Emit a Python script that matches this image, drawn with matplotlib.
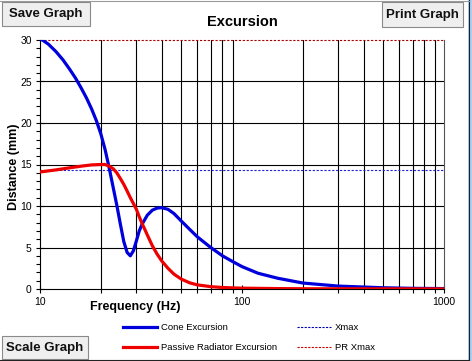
import matplotlib
matplotlib.use("Agg")
import matplotlib.pyplot as plt
from matplotlib.patches import Rectangle
from matplotlib.lines import Line2D
from matplotlib.ticker import FixedLocator, NullFormatter, MultipleLocator

plt.rcParams['font.family'] = ['Liberation Sans', 'DejaVu Sans']

# ---- data ----
cone_freq = [10, 11, 12, 13, 14, 15, 16, 17, 18, 19, 20, 21, 22, 23, 24, 25, 26,
             27, 28, 29, 30, 31, 32, 34, 36, 38, 40, 43, 46, 50, 55, 60, 70, 80,
             90, 100, 120, 150, 200, 300, 500, 700, 1000]
cone_exc = [30.2, 29.5, 28.6, 27.6, 26.5, 25.4, 24.2, 23.0, 21.7, 20.3, 18.7, 16.8,
            14.6, 12.3, 10.1, 7.8, 5.7, 4.4, 4.0, 4.6, 5.8, 7.0, 7.8, 8.9, 9.5,
            9.75, 9.8, 9.6, 9.1, 8.2, 7.2, 6.3, 5.0, 4.0, 3.3, 2.7, 1.9, 1.3,
            0.72, 0.35, 0.15, 0.08, 0.05]
pr_freq = [10, 12, 14, 16, 18, 20, 21, 22, 23, 24, 25, 26, 27, 28, 29, 30, 31, 32,
           33, 34, 36, 38, 40, 43, 46, 50, 55, 60, 70, 80, 100, 150, 200, 1000]
pr_exc = [14.1, 14.35, 14.6, 14.8, 14.95, 15.0, 15.0, 14.8, 14.5, 14.0, 13.3, 12.6,
          11.8, 11.0, 10.3, 9.6, 8.7, 7.9, 7.2, 6.5, 5.2, 4.2, 3.4, 2.5, 1.8, 1.2,
          0.75, 0.5, 0.28, 0.18, 0.1, 0.05, 0.03, 0.01]
xmax = 14.3
pr_xmax = 30.0
x_ticks = [10, 100, 1000]
x_tick_labels = ['10', '100', '1000']
y_ticks = [0, 5, 10, 15, 20, 25, 30]
title = 'Excursion'
xlabel = 'Frequency (Hz)'
ylabel = 'Distance (mm)'
legend_labels = ['Cone Excursion', 'Passive Radiator Excursion', 'Xmax', 'PR Xmax']

W, H = 472, 361
fig = plt.figure(figsize=(W / 100, H / 100), dpi=100)
fig.patch.set_facecolor('white')

def fx(px):
    return px / W

def fy(py):
    return 1 - py / H

ax = fig.add_axes([fx(40), fy(289), fx(444) - fx(40), fy(40) - fy(289)])
ax.set_xscale('log')
ax.set_xlim(10, 1000)
ax.set_ylim(0, 30)

# grid
minor_x = [v * d for d in (10, 100) for v in range(2, 10)]
for xv in minor_x:
    ax.axvline(xv, color='black', lw=0.8, zorder=1)
for yv in [5, 10, 15, 20, 25]:
    ax.axhline(yv, color='black', lw=0.8, zorder=1)

ax.plot(cone_freq, cone_exc, color='#0000dd', lw=2.3, zorder=3, solid_joinstyle='round')
ax.plot(pr_freq, pr_exc, color='#ee0000', lw=2.3, zorder=3, solid_joinstyle='round')
ax.axhline(xmax, color='#2020dd', lw=0.8, ls=(0, (2, 1.5)), zorder=2)
ax.axhline(pr_xmax, color='#aa0000', lw=0.8, ls=(0, (2, 1.5)), zorder=2, clip_on=False)

ax.spines['top'].set_visible(False)
ax.spines['right'].set_color('#555555')
ax.spines['right'].set_linewidth(0.8)
ax.spines['left'].set_linewidth(0.8)
ax.spines['bottom'].set_linewidth(0.8)

ax.xaxis.set_major_locator(FixedLocator(x_ticks))
ax.set_xticklabels(x_tick_labels)
ax.xaxis.set_minor_locator(FixedLocator(minor_x))
ax.xaxis.set_minor_formatter(NullFormatter())
ax.yaxis.set_major_locator(FixedLocator(y_ticks))
ax.yaxis.set_minor_locator(MultipleLocator(1))
ax.tick_params(axis='both', which='major', direction='inout', length=6, width=0.8,
               labelsize=7.5, colors='black', pad=3)
ax.tick_params(axis='both', which='minor', direction='out', length=3, width=0.8)

fig.text(fx(242), fy(22), title, ha='center', va='center', fontsize=10.5, fontweight='bold')
fig.text(fx(135), fy(307), xlabel, ha='center', va='center', fontsize=9, fontweight='bold')
fig.text(fx(14), fy(167), ylabel, ha='center', va='center', fontsize=9,
         fontweight='bold', rotation=90)

# legend (manual)
leg_items = [
    (123, 157, 327, '#0000dd', '-', 2.3, legend_labels[0]),
    (123, 157, 347, '#ee0000', '-', 2.3, legend_labels[1]),
    (297, 331, 327, '#0000aa', (0, (2, 1.2)), 0.8, legend_labels[2]),
    (297, 331, 347, '#cc0000', (0, (2, 1.2)), 0.8, legend_labels[3]),
]
for x0, x1, yy, c, ls, lw, lab in leg_items:
    fig.add_artist(Line2D([fx(x0), fx(x1)], [fy(yy), fy(yy)], color=c, ls=ls, lw=lw,
                          transform=fig.transFigure))
    fig.text(fx(x1 + 4), fy(yy), lab, ha='left', va='center', fontsize=6.8)

# buttons
def button(x0, y0, x1, y1, label):
    fig.add_artist(Rectangle((fx(x0), fy(y1)), fx(x1) - fx(x0), fy(y0) - fy(y1),
                             transform=fig.transFigure, facecolor='#efefef',
                             edgecolor='#8a8a8a', lw=0.8))
    fig.text(fx((x0 + x1) / 2), fy((y0 + y1) / 2 + 0.5), label, ha='center', va='center',
             fontsize=9.5, fontweight='bold', color='#111111')

button(2, 2, 90, 26, 'Save Graph')
button(382, 2, 463, 27, 'Print Graph')
button(2, 336, 88, 359, 'Scale Graph')

# frame
fig.add_artist(Rectangle((fx(468), 0), fx(4), 1, transform=fig.transFigure,
                         facecolor='#a8cff5', edgecolor='none'))
fig.add_artist(Line2D([fx(468.5), fx(468.5)], [0, 1], color='#222222', lw=0.8,
                      transform=fig.transFigure))
fig.add_artist(Line2D([0, fx(468.5)], [fy(359.5), fy(359.5)], color='#222222', lw=0.8,
                      transform=fig.transFigure))
fig.add_artist(Line2D([0, fx(468.5)], [fy(0.5), fy(0.5)], color='#9a9a9a', lw=0.8,
                      transform=fig.transFigure))

fig.savefig('out.png', dpi=100, facecolor='white')
